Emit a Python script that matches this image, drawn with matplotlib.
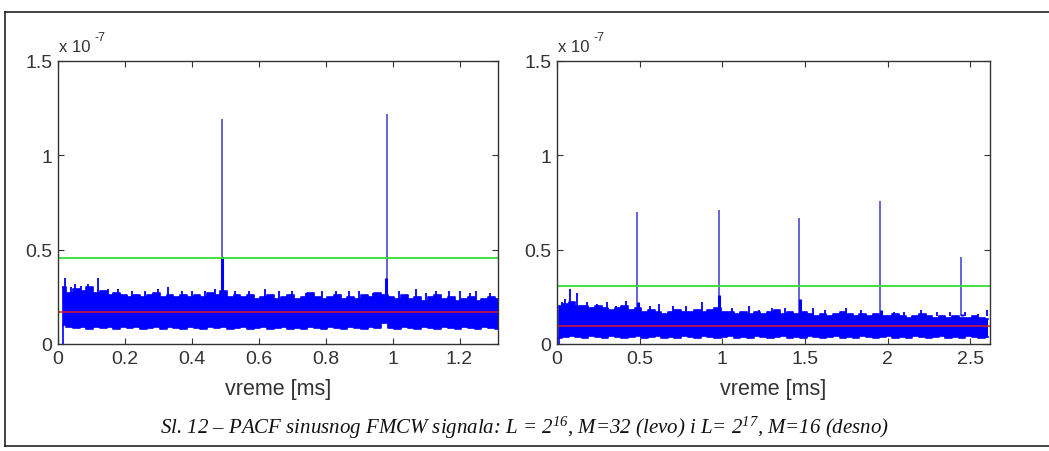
"""PACF of a sinusoidal FMCW signal: two panels with noise floor and thresholds."""

import matplotlib.pyplot as plt
from matplotlib.lines import Line2D
import numpy as np

# ---- left panel (L = 2^16, M = 32) ----
left_xlim = 1.315
left_x0, left_dx = 0.015, 0.02
left_upper = [0.30, 0.27, 0.29, 0.28, 0.30, 0.27, 0.28, 0.26, 0.27, 0.26,
              0.25, 0.26, 0.25, 0.26, 0.27, 0.25, 0.26, 0.25, 0.26, 0.25,
              0.26, 0.25, 0.27, 0.26, 0.28, 0.25, 0.26, 0.25, 0.26, 0.24,
              0.25, 0.26, 0.24, 0.25, 0.26, 0.24, 0.25, 0.27, 0.25, 0.24,
              0.25, 0.26, 0.24, 0.25, 0.24, 0.26, 0.25, 0.27, 0.26, 0.25,
              0.24, 0.26, 0.24, 0.25, 0.23, 0.25, 0.26, 0.24, 0.25, 0.23,
              0.24, 0.25, 0.23, 0.24, 0.25, 0.24]
left_lower = [0.10, 0.09, 0.085, 0.09, 0.08, 0.09, 0.085, 0.09, 0.08, 0.09,
              0.085, 0.09, 0.08, 0.085, 0.09, 0.08, 0.09, 0.085, 0.08, 0.09,
              0.085, 0.08, 0.09, 0.085, 0.09, 0.08, 0.085, 0.09, 0.08, 0.085,
              0.09, 0.08, 0.085, 0.09, 0.08, 0.085, 0.08, 0.09, 0.085, 0.08,
              0.09, 0.085, 0.08, 0.09, 0.085, 0.08, 0.09, 0.085, 0.11, 0.085,
              0.08, 0.09, 0.085, 0.08, 0.09, 0.085, 0.08, 0.09, 0.085, 0.08,
              0.09, 0.085, 0.08, 0.09, 0.085, 0.08]
left_spike_x = [0.02, 0.04, 0.05, 0.07, 0.09, 0.10, 0.12, 0.15, 0.18, 0.22,
                0.26, 0.30, 0.33, 0.37, 0.40, 0.44, 0.47, 0.53, 0.57, 0.62,
                0.66, 0.70, 0.74, 0.79, 0.83, 0.87, 0.90, 0.94, 1.02, 1.07,
                1.10, 1.13, 1.17, 1.20, 1.23, 1.25, 1.29]
left_spike_y = [0.35, 0.30, 0.32, 0.31, 0.32, 0.30, 0.35, 0.29, 0.29, 0.28,
                0.28, 0.29, 0.30, 0.28, 0.28, 0.28, 0.29, 0.28, 0.28, 0.29,
                0.28, 0.28, 0.27, 0.28, 0.28, 0.28, 0.28, 0.27, 0.28, 0.29,
                0.27, 0.28, 0.28, 0.28, 0.27, 0.28, 0.27]
left_bump_x = [0.49, 0.98]
left_bump_y = [0.46, 0.35]
left_peak_x = [0.49, 0.982]
left_peak_y = [1.19, 1.22]
left_green = 0.455
left_red = 0.17
left_xticks = [0, 0.2, 0.4, 0.6, 0.8, 1, 1.2]

# ---- right panel (L = 2^17, M = 16) ----
right_xlim = 2.62
right_x0, right_dx = 0.01, 0.04
right_upper = [0.20, 0.21, 0.22, 0.20, 0.20, 0.19, 0.20, 0.19, 0.18, 0.19,
               0.20, 0.18, 0.19, 0.17, 0.18, 0.17, 0.16, 0.17, 0.18, 0.17,
               0.17, 0.18, 0.17, 0.18, 0.19, 0.17, 0.17, 0.16, 0.17, 0.16,
               0.17, 0.16, 0.17, 0.18, 0.16, 0.17, 0.16, 0.17, 0.16, 0.15,
               0.16, 0.15, 0.16, 0.17, 0.16, 0.15, 0.16, 0.15, 0.16, 0.15,
               0.15, 0.16, 0.15, 0.14, 0.15, 0.16, 0.15, 0.14, 0.15, 0.14,
               0.15, 0.14, 0.14, 0.15, 0.14, 0.13]
right_lower = [0.03, 0.035, 0.04, 0.035, 0.03, 0.04, 0.035, 0.03, 0.04, 0.035,
               0.03, 0.035, 0.04, 0.03, 0.035, 0.04, 0.03, 0.035, 0.03, 0.04,
               0.035, 0.03, 0.04, 0.035, 0.03, 0.035, 0.04, 0.03, 0.035, 0.03,
               0.04, 0.035, 0.03, 0.035, 0.04, 0.03, 0.035, 0.03, 0.04, 0.035,
               0.03, 0.035, 0.04, 0.03, 0.035, 0.03, 0.04, 0.035, 0.03, 0.035,
               0.04, 0.03, 0.035, 0.03, 0.04, 0.035, 0.03, 0.035, 0.04, 0.03,
               0.035, 0.03, 0.04, 0.035, 0.03, 0.035]
right_spike_x = [0.03, 0.05, 0.08, 0.12, 0.18, 0.24, 0.30, 0.36, 0.42, 0.56,
                 0.62, 0.70, 0.78, 0.88, 1.06, 1.16, 1.22, 1.30, 1.38, 1.55,
                 1.62, 1.75, 1.84, 2.04, 2.10, 2.20, 2.30, 2.38, 2.47, 2.55,
                 2.60]
right_spike_y = [0.22, 0.24, 0.29, 0.27, 0.22, 0.21, 0.22, 0.20, 0.23, 0.20,
                 0.21, 0.20, 0.20, 0.22, 0.19, 0.20, 0.18, 0.19, 0.19, 0.19,
                 0.18, 0.19, 0.18, 0.17, 0.17, 0.18, 0.17, 0.17, 0.17, 0.16,
                 0.18]
right_bump_x = [0.49, 0.98, 1.47, 1.96, 2.45]
right_bump_y = [0.22, 0.26, 0.24, 0.18, 0.16]
right_peak_x = [0.485, 0.98, 1.465, 1.955, 2.445]
right_peak_y = [0.70, 0.71, 0.667, 0.76, 0.46]
right_green = 0.31
right_red = 0.095
right_xticks = [0, 0.5, 1, 1.5, 2, 2.5]

caption_parts = ["Sl. 12 – PACF sinusnog FMCW signala: L = 2$^{16}$, M=32 (levo) i L= 2$^{17}$, M=16 (desno)"]

BLUE = "#0000ff"
PEAK = "#3a3acc"
GREEN = "#33dd33"
RED = "#dd1a2a"
TXT = "#333333"

plt.rcParams["font.family"] = ["Liberation Sans", "DejaVu Sans"]
plt.rcParams["mathtext.fontset"] = "custom"
plt.rcParams["mathtext.it"] = "Liberation Serif:italic"
plt.rcParams["mathtext.rm"] = "Liberation Serif:italic"

fig = plt.figure(figsize=(10.49, 4.52), dpi=100)

# outer frame (open on the right, as in the scanned figure)
frame = [Line2D([5 / 1049, 1.02], [1 - 13 / 452] * 2),
         Line2D([5 / 1049] * 2, [1 - 13 / 452, 1 - 447 / 452]),
         Line2D([5 / 1049, 1.02], [1 - 447 / 452] * 2)]
for ln in frame:
    ln.set_color("#222222")
    ln.set_linewidth(1.2)
    ln.set_transform(fig.transFigure)
    fig.add_artist(ln)


def draw_panel(ax, x0, dx, upper, lower, sx, sy, bx, by, px, py, green, red, xlim, xticks):
    x = x0 + dx * np.arange(len(upper))
    upper = np.asarray(upper) * 1e-7
    lower = np.asarray(lower) * 1e-7
    # main peaks sit behind the noise band
    ax.vlines(px, 0.15e-7, np.asarray(py) * 1e-7, color=PEAK, lw=1.1, zorder=1)
    ax.vlines(bx, 0.15e-7, np.asarray(by) * 1e-7, color=BLUE, lw=2.2, zorder=1)
    ax.vlines(sx, 0.15e-7, np.asarray(sy) * 1e-7, color=BLUE, lw=1.3, zorder=1)
    ax.fill_between(x, lower, upper, color=BLUE, lw=0, step="mid", zorder=2)
    ax.plot(x, upper, color=BLUE, lw=1.2, drawstyle="steps-mid", zorder=2)
    ax.plot(x, lower, color=BLUE, lw=1.2, drawstyle="steps-mid", zorder=2)
    # first lag drops to zero
    ax.vlines(x[0], 0, upper[0], color=BLUE, lw=1.2, zorder=2)
    ax.axhline(green * 1e-7, color=GREEN, lw=1.3, zorder=3)
    ax.axhline(red * 1e-7, color=RED, lw=1.1, zorder=3)
    ax.set_xlim(0, xlim)
    ax.set_ylim(0, 1.5e-7)
    ax.set_xticks(xticks)
    ax.set_xticklabels([f"{t:g}" for t in xticks])
    ax.set_yticks([0, 0.5e-7, 1e-7, 1.5e-7])
    ax.set_yticklabels(["0", "0.5", "1", "1.5"])
    ax.tick_params(direction="in", top=True, right=True, length=4, labelsize=14,
                   colors="#333333", labelcolor=TXT, pad=4)
    for sp in ax.spines.values():
        sp.set_color("#333333")
        sp.set_linewidth(1.0)
        sp.set_zorder(4)
    ax.set_xlabel("vreme [ms]", fontsize=15.5, color=TXT, labelpad=8)
    ax.text(0.003, 1.025, "x 10", transform=ax.transAxes, fontsize=12,
            color=TXT, ha="left", va="bottom")
    ax.annotate("-7", xy=(0.003, 1.025), xycoords="axes fraction", xytext=(25, 8),
                textcoords="offset points", fontsize=9, color=TXT, ha="left", va="bottom")


ax1 = fig.add_axes([58 / 1049, 107 / 452, 440 / 1049, 283 / 452])
ax2 = fig.add_axes([557 / 1049, 107 / 452, 433 / 1049, 283 / 452])

draw_panel(ax1, left_x0, left_dx, left_upper, left_lower, left_spike_x, left_spike_y,
           left_bump_x, left_bump_y, left_peak_x, left_peak_y, left_green, left_red,
           left_xlim, left_xticks)
draw_panel(ax2, right_x0, right_dx, right_upper, right_lower, right_spike_x, right_spike_y,
           right_bump_x, right_bump_y, right_peak_x, right_peak_y, right_green, right_red,
           right_xlim, right_xticks)

fig.text(524 / 1049, 1 - 428 / 452, caption_parts[0], family="Liberation Serif",
         style="italic", fontsize=15, ha="center", va="center", color="#111111")

fig.savefig("out.png", dpi=100)
